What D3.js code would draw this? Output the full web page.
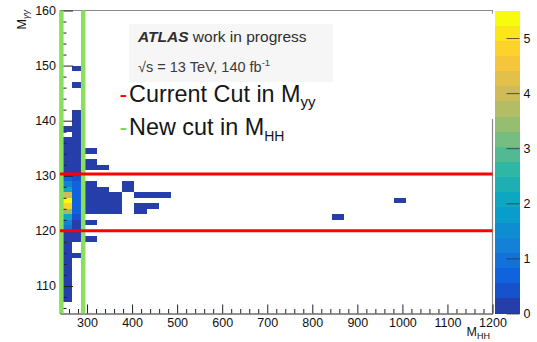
<!DOCTYPE html>
<html><head><meta charset="utf-8">
<script src="https://cdn.jsdelivr.net/npm/d3@7/dist/d3.min.js"></script>
<style>
body{margin:0;background:#fff;}
svg{display:block;font-family:"Liberation Sans",Arial,Helvetica,sans-serif;}
</style>
</head><body>
<svg id="chart" width="537" height="342"></svg>
<script>
// ---------- data ----------
const mhhRange = [240, 1200];      // x axis (M_HH)
const mhhBinCount = 35;
const myyRange = [105, 160];       // y axis (M_yy)
const myyBinWidth = 1;
const zRange = [0, 5.5];           // colour scale
const contourLevels = 20;

// filled bins per M_HH column: lower M_yy edge, weight
const col0Myy = [107,108,109,110,111,112,113,114,115,116,117,118,119,120,121,122,123,124,125,126,127,128,129,130,131,132,133,134,135,136,138];
const col0W   = [0.2,0.2,0.2,0.2,0.2,0.2,0.2,0.2,0.2,0.2,0.2,0.2,0.2,0.9,1.3,2.1,3.4,4.8,5.4,4.0,2.0,1.3,0.7,0.2,0.2,0.2,0.2,0.2,0.2,0.2,0.2];
const col1Myy = [115,118,119,120,121,122,123,124,125,126,127,128,129,130,131,132,133,134,135,136,137,138,139,140,141,146,149];
const col1W   = [0.2,0.2,0.2,0.2,0.2,0.35,0.65,0.65,0.65,0.65,0.65,0.65,0.35,0.2,0.2,0.2,0.2,0.2,0.2,0.2,0.2,0.2,0.2,0.2,0.2,0.2,0.2];
const col2Myy = [118,121,123,124,125,126,127,128,131,132,134];
const col3Myy = [123,124,125,126,127,131];
const col4Myy = [123,124,125,126];
const col5Myy = [127,128];
const col6Myy = [123,124,126];
const col7Myy = [124,126];
const col8Myy = [126];
const col22Myy = [122];
const col27Myy = [125];
const lowWeight = 0.2;

const myyCuts = [120, 130.3];      // red lines
const mhhCuts = [243, 291.5];      // green lines

const xMajorTicks = [300,400,500,600,700,800,900,1000,1100,1200];
const yMajorTicks = [110,120,130,140,150,160];
const zTicks = [0,1,2,3,4,5];

// kBird palette stops
const birdStops = [0,0.125,0.25,0.375,0.5,0.625,0.75,0.875,1];
const birdR = [0.2082,0.0592,0.0780,0.0232,0.1802,0.5301,0.8186,0.9956,0.9764];
const birdG = [0.1664,0.3599,0.5041,0.6419,0.7178,0.7492,0.7328,0.7862,0.9832];
const birdB = [0.5293,0.8684,0.8385,0.7914,0.6425,0.4662,0.3499,0.1968,0.0539];

// ---------- build ----------
const columns = [
  {c:0, myy:col0Myy, w:col0W},
  {c:1, myy:col1Myy, w:col1W},
  {c:2, myy:col2Myy}, {c:3, myy:col3Myy}, {c:4, myy:col4Myy},
  {c:5, myy:col5Myy}, {c:6, myy:col6Myy}, {c:7, myy:col7Myy},
  {c:8, myy:col8Myy}, {c:22, myy:col22Myy}, {c:27, myy:col27Myy}
];
const mhhBinWidth = (mhhRange[1]-mhhRange[0])/mhhBinCount;
const cells = [];
columns.forEach(col => col.myy.forEach((m,i) => cells.push({
  x0: mhhRange[0] + col.c*mhhBinWidth, x1: mhhRange[0] + (col.c+1)*mhhBinWidth,
  y0: m, y1: m + myyBinWidth, w: col.w ? col.w[i] : lowWeight
})));

const birdScale = d3.scaleLinear().domain(birdStops)
  .range(birdStops.map((s,i)=>d3.rgb(birdR[i]*255,birdG[i]*255,birdB[i]*255)))
  .interpolate(d3.interpolateRgb);
function levelColor(v){
  let band = Math.floor(v/(zRange[1]-zRange[0])*contourLevels);
  band = Math.max(0, Math.min(contourLevels-1, band));
  return birdScale((band+0.99)/contourLevels);
}

const L=60, R=492.5, T=10.5, B=313.5;
const x = d3.scaleLinear().domain(mhhRange).range([L,R]);
const y = d3.scaleLinear().domain(myyRange).range([B,T]);
const z = d3.scaleLinear().domain(zRange).range([B,T]);
const intFmt = d3.format("d");

const svg = d3.select("#chart");
svg.append("rect").attr("width",537).attr("height",342).attr("fill","#fff");

// cells
svg.append("g").selectAll("rect").data(cells).join("rect")
  .attr("x", d=>x(d.x0)).attr("width", d=>x(d.x1)-x(d.x0))
  .attr("y", d=>y(d.y1)).attr("height", d=>y(d.y0)-y(d.y1))
  .attr("fill", d=>levelColor(d.w))
  .attr("shape-rendering","crispEdges");

// frame (top & right, partially hidden)
svg.append("line").attr("x1",L).attr("x2",R+0.5).attr("y1",T).attr("y2",T)
  .attr("stroke","#8a8a8a").attr("stroke-width",1.2);
svg.append("line").attr("x1",R).attr("x2",R).attr("y1",y(140.3)).attr("y2",B)
  .attr("stroke","#8a8a8a").attr("stroke-width",1.2);
svg.append("line").attr("x1",R).attr("x2",R).attr("y1",T).attr("y2",T+3)
  .attr("stroke","#8a8a8a").attr("stroke-width",1.2);

// x axis
const xMinor = d3.range(mhhRange[0], mhhRange[1]+1, 20).filter(v=>v%100!==0);
const gxm = svg.append("g").attr("transform",`translate(0,${B})`)
  .call(d3.axisBottom(x).tickValues(xMinor).tickSize(-4.5).tickSizeOuter(0).tickFormat(""));
gxm.select(".domain").remove();
const gx = svg.append("g").attr("transform",`translate(0,${B})`)
  .call(d3.axisBottom(x).tickValues(xMajorTicks).tickSize(-9).tickSizeOuter(0).tickPadding(5).tickFormat(intFmt));
gx.select(".domain").attr("stroke","#222");
gx.selectAll("text").attr("font-size",12.5).attr("fill","#111")
  .attr("font-family","Liberation Sans, Arial, sans-serif");

// y axis
const yMinor = d3.range(106, 160, 2).filter(v=>v%10!==0);
const gym = svg.append("g").attr("transform",`translate(${L},0)`)
  .call(d3.axisLeft(y).tickValues(yMinor).tickSize(-6.5).tickSizeOuter(0).tickFormat(""));
gym.select(".domain").remove();
const gy = svg.append("g").attr("transform",`translate(${L},0)`)
  .call(d3.axisLeft(y).tickValues(yMajorTicks).tickSize(-13).tickSizeOuter(0).tickPadding(4).tickFormat(intFmt));
gy.select(".domain").attr("stroke","#222");
gy.selectAll("text").attr("font-size",12.5).attr("fill","#111")
  .attr("font-family","Liberation Sans, Arial, sans-serif");
svg.selectAll("g.tick line").attr("stroke","#222");

// colour bar
const zBands = d3.range(contourLevels).map(i => ({
  lo: zRange[0] + i*(zRange[1]-zRange[0])/contourLevels,
  hi: zRange[0] + (i+1)*(zRange[1]-zRange[0])/contourLevels,
  c: birdScale((i+0.99)/contourLevels)
}));
const CBL=495, CBR=519.5;
svg.append("g").selectAll("rect").data(zBands).join("rect")
  .attr("x",CBL).attr("width",CBR-CBL)
  .attr("y",d=>z(d.hi)).attr("height",d=>z(d.lo)-z(d.hi))
  .attr("fill",d=>d.c).attr("shape-rendering","crispEdges");
const gz = svg.append("g").attr("transform",`translate(${CBR},0)`)
  .call(d3.axisRight(z).tickValues(zTicks).tickSize(-13).tickSizeOuter(0).tickPadding(4).tickFormat(intFmt));
gz.select(".domain").remove();
gz.selectAll("line").attr("stroke","#333").attr("stroke-opacity",0.8);
gz.selectAll("text").attr("font-size",12.5).attr("fill","#111")
  .attr("font-family","Liberation Sans, Arial, sans-serif");

// cut lines
svg.append("g").selectAll("line").data(mhhCuts).join("line")
  .attr("x1",d=>x(d)).attr("x2",d=>x(d)).attr("y1",T).attr("y2",B)
  .attr("stroke","#88e05e").attr("stroke-width",4.5);
svg.append("g").selectAll("line").data(myyCuts).join("line")
  .attr("x1",L).attr("x2",R).attr("y1",d=>y(d)).attr("y2",d=>y(d))
  .attr("stroke","#ff0000").attr("stroke-width",3);

// axis titles
const xt = svg.append("text").attr("x",490).attr("y",336).attr("text-anchor","end")
  .attr("font-size",12.5).attr("fill","#111");
xt.append("tspan").text("M");
xt.append("tspan").attr("font-size",9).attr("dy",3).text("HH");

const yt = svg.append("text").attr("transform","translate(26,10) rotate(-90)")
  .attr("text-anchor","end").attr("font-size",12.5).attr("fill","#111");
yt.append("tspan").text("M");
yt.append("tspan").attr("font-size",9).attr("dy",3).attr("font-style","italic").text("γγ");

// annotation box
svg.append("rect").attr("x",129).attr("y",24).attr("width",204).attr("height",58)
  .attr("fill","#f6f6f6");
const t1 = svg.append("text").attr("x",138).attr("y",41.5).attr("font-size",15.5).attr("fill","#2e2e2e");
t1.append("tspan").attr("font-weight","bold").attr("font-style","italic").text("ATLAS");
t1.append("tspan").text(" work in progress");
const t2 = svg.append("text").attr("x",138).attr("y",71.5).attr("font-size",14.5).attr("fill","#3a3a3a");
t2.append("tspan").text("√s = 13 TeV, 140 fb");
t2.append("tspan").attr("font-size",9.5).attr("dy",-6).text("-1");

svg.append("text").attr("x",119.5).attr("y",101.7).attr("font-size",23.4).attr("fill","#ff0000").text("-");
const t3 = svg.append("text").attr("x",129).attr("y",101.7).attr("font-size",23.4).attr("fill","#161616");
t3.append("tspan").text("Current Cut in M");
t3.append("tspan").attr("font-size",15).attr("dy",5).text("yy");

svg.append("text").attr("x",119.5).attr("y",135).attr("font-size",23.4).attr("fill","#7fd35a").text("-");
const t4 = svg.append("text").attr("x",129).attr("y",135).attr("font-size",23.4).attr("fill","#161616");
t4.append("tspan").text("New cut in M");
t4.append("tspan").attr("font-size",14).attr("dy",5.5).text("HH");
</script>
</body></html>
